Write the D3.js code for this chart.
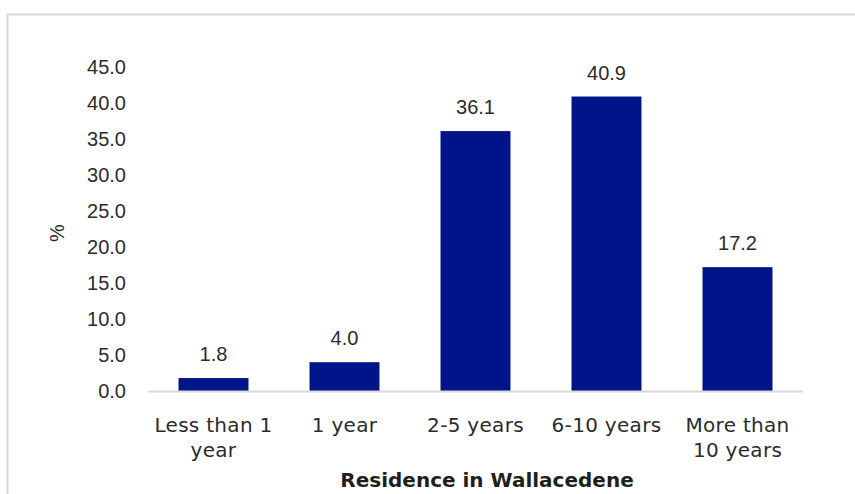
<!DOCTYPE html>
<html>
<head>
<meta charset="utf-8">
<script src="https://cdn.jsdelivr.net/npm/d3@7"></script>
<style>
  body { margin: 0; background: #fff; }
  svg { display: block; }
</style>
</head>
<body>
<div id="chart"></div>
<script>
'use strict';

// chart data
const categories = [['Less than 1', 'year'], ['1 year'], ['2-5 years'], ['6-10 years'], ['More than', '10 years']];
const values = [1.8, 4.0, 36.1, 40.9, 17.2];
const yTicks = [0, 5, 10, 15, 20, 25, 30, 35, 40, 45];

const WIDTH = 855;
const HEIGHT = 494;
const BAR_COLOR = '#00148A';
const AXIS_COLOR = '#d9d9d9';
const TEXT_COLOR = '#2b2b2b';
const NUM_FONT = '"Liberation Sans", Arial, sans-serif';
const CAT_FONT = '"DejaVu Sans", sans-serif';

const margin = {left: 148, right: 52, top: 67, bottom: 103};

const svg = d3.select('#chart').append('svg')
    .attr('width', WIDTH)
    .attr('height', HEIGHT);

// frame (top and left edges visible)
svg.append('path')
    .attr('d', 'M7.5,' + HEIGHT + 'V14.5H' + WIDTH)
    .attr('fill', 'none')
    .attr('stroke', '#d9d9d9')
    .attr('stroke-width', 2);

const x = d3.scaleBand()
    .domain(categories.map((c, i) => i))
    .range([margin.left, WIDTH - margin.right])
    .paddingInner(0.466)
    .paddingOuter(0.233);

const y = d3.scaleLinear()
    .domain([0, 45])
    .range([HEIGHT - margin.bottom, margin.top]);

// y axis labels
const yAxis = d3.axisLeft(y)
    .tickValues(yTicks)
    .tickFormat(d3.format('.1f'))
    .tickSize(0)
    .tickPadding(0);

svg.append('g')
    .attr('transform', 'translate(126,0)')
    .call(yAxis)
    .call(g => g.select('.domain').remove())
    .selectAll('text')
    .attr('font-family', NUM_FONT)
    .attr('font-size', 20)
    .attr('fill', TEXT_COLOR);

// bars
svg.selectAll('rect.bar')
    .data(values)
    .enter()
    .append('rect')
    .classed('bar', true)
    .attr('x', (d, i) => x(i))
    .attr('y', d => y(d))
    .attr('width', x.bandwidth())
    .attr('height', d => y(0) - y(d))
    .attr('fill', BAR_COLOR);

// data labels
svg.selectAll('text.value')
    .data(values)
    .enter()
    .append('text')
    .classed('value', true)
    .attr('x', (d, i) => x(i) + x.bandwidth() / 2)
    .attr('y', d => y(d) - 17)
    .attr('text-anchor', 'middle')
    .attr('font-family', NUM_FONT)
    .attr('font-size', 20)
    .attr('fill', TEXT_COLOR)
    .text(d => d3.format('.1f')(d));

// x axis line
svg.append('line')
    .attr('x1', margin.left)
    .attr('x2', WIDTH - margin.right)
    .attr('y1', y(0) + 0.5)
    .attr('y2', y(0) + 0.5)
    .attr('stroke', AXIS_COLOR)
    .attr('stroke-width', 2);

// category labels
const cat = svg.selectAll('text.cat')
    .data(categories)
    .enter()
    .append('text')
    .classed('cat', true)
    .attr('text-anchor', 'middle')
    .attr('font-family', CAT_FONT)
    .attr('font-size', 20)
    .attr('letter-spacing', 0.3)
    .attr('fill', TEXT_COLOR);

cat.selectAll('tspan')
    .data((d, i) => d.map(line => ({line: line, i: i})))
    .enter()
    .append('tspan')
    .attr('x', d => x(d.i) + x.bandwidth() / 2)
    .attr('y', (d, j) => 432 + j * 25)
    .text(d => d.line);

// axis titles
svg.append('text')
    .attr('x', 487)
    .attr('y', 487)
    .attr('text-anchor', 'middle')
    .attr('font-family', CAT_FONT)
    .attr('font-size', 20)
    .attr('font-weight', 'bold')
    .attr('fill', '#1f1f1f')
    .text('Residence in Wallacedene');

svg.append('text')
    .attr('transform', 'translate(64,233) rotate(-90)')
    .attr('text-anchor', 'middle')
    .attr('font-family', NUM_FONT)
    .attr('font-size', 20)
    .attr('fill', TEXT_COLOR)
    .text('%');
</script>
</body>
</html>
